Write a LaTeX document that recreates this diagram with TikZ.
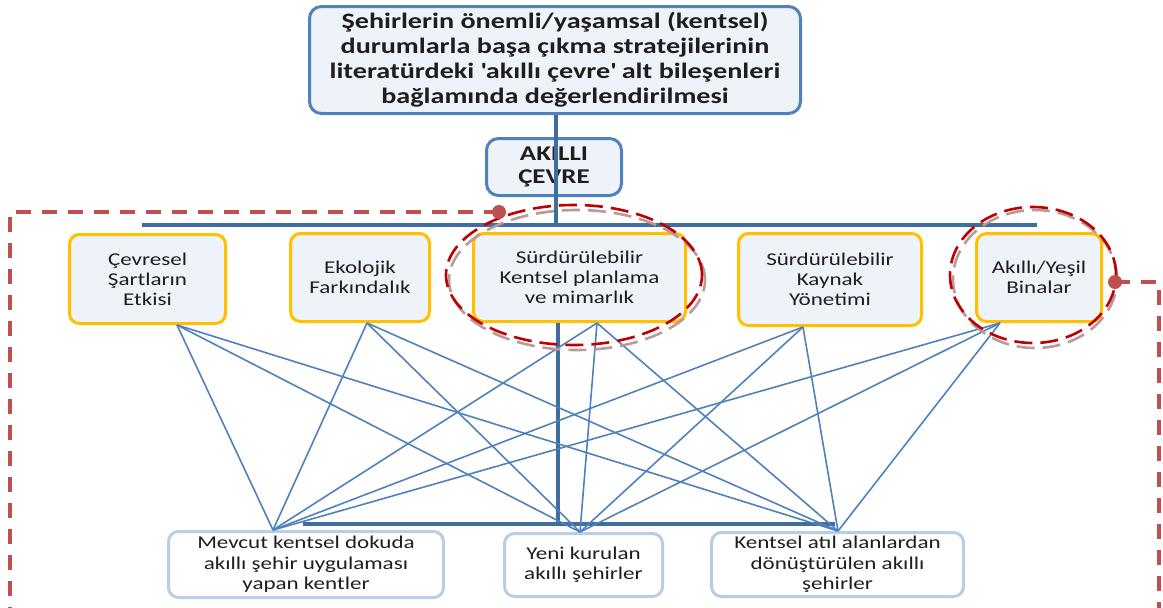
\documentclass[tikz,border=0pt]{standalone}
\usepackage{fontspec}
\setmainfont{Carlito}[FakeStretch=1.28]
\usetikzlibrary{calc}
\definecolor{topblue}{HTML}{4F81BD}
\definecolor{boxfill}{HTML}{EEF2F9}
\definecolor{gold}{HTML}{FFC000}
\definecolor{lightblue}{HTML}{B9CDE5}
\definecolor{thinblue}{HTML}{4F81BD}
\definecolor{darkblue}{HTML}{3F6D9F}
\definecolor{ellred}{HTML}{C00000}
\definecolor{ellgray}{HTML}{B89A9A}
\definecolor{dashred}{HTML}{C0504D}
\definecolor{txt}{HTML}{1E1E1E}
\tikzset{
  topbox/.style={draw=topblue, line width=3pt, fill=boxfill, rounded corners=12pt, align=center, text=txt, inner sep=0pt, font=\bfseries\fontsize{22}{25}\selectfont},
  midbox/.style={draw=gold, line width=3pt, fill=boxfill, rounded corners=10pt, align=center, text=txt, inner sep=0pt, font=\fontsize{18}{20}\selectfont},
  botbox/.style={draw=lightblue, line width=3pt, fill=white, rounded corners=10pt, align=center, text=txt, inner sep=0pt, font=\fontsize{18}{20.5}\selectfont},
  bus/.style={draw=darkblue, line width=3.5pt},
  link/.style={draw=thinblue, line width=1.6pt},
  ellr/.style={draw=ellred, line width=2.6pt, dash pattern=on 18pt off 8pt},
  ellg/.style={draw=ellgray, line width=2.6pt, dash pattern=on 18pt off 8pt},
  outer/.style={draw=dashred, line width=4pt, dash pattern=on 15pt off 11pt},
  dot/.style={circle, fill=dashred, inner sep=0pt, minimum size=14pt}
}
\begin{document}
\begin{tikzpicture}[x=1pt,y=-1pt]
\useasboundingbox (0,0) rectangle (1163,608);
% bus lines
\coordinate (busL) at (142,225);
\coordinate (busR) at (1037,225);
\coordinate (bbusL) at (303,524);
\coordinate (bbusR) at (835,524);
\draw[bus] (busL) -- (busR);
\draw[bus] (bbusL) -- (bbusR);
% top nodes
\node[topbox, minimum width=491pt, minimum height=107pt] (title) at (555,60)
  {Şehirlerin önemli/yaşamsal (kentsel)\\durumlarla başa çıkma stratejilerinin\\literatürdeki \textquotesingle akıllı çevre\textquotesingle{} alt bileşenleri\\bağlamında değerlendirilmesi};
\node[topbox, font=\bfseries\fontsize{21}{23}\selectfont, minimum width=135pt, minimum height=57pt] (ak) at (554,167) {AKILLI\\ÇEVRE};
\draw[bus] (title.south -| 556,0) -- (ak.south -| 556,0) -- (busL -| 556,0);
% middle nodes
\node[midbox, minimum width=156pt, minimum height=89pt] (c1) at (147.5,279) {Çevresel\\Şartların\\Etkisi};
\node[midbox, minimum width=139pt, minimum height=88pt] (c2) at (360,277.5) {Ekolojik\\Farkındalık};
\node[midbox, minimum width=212pt, minimum height=88pt] (c3) at (579.5,277.5) {Sürdürülebilir\\Kentsel planlama\\ve mimarlık};
\node[midbox, minimum width=183pt, minimum height=92pt] (c4) at (830,279.5) {Sürdürülebilir\\Kaynak\\Yönetimi};
\node[midbox, minimum width=125pt, minimum height=88pt] (c5) at (1039,277.5) {Akıllı/Yeşil\\Binalar};
\draw[bus] (c3.south -| 558,0) -- (bbusL -| 558,0);
% bottom nodes
\node[botbox, minimum width=275pt, minimum height=66pt] (b1) at (306,564.5) {Mevcut kentsel dokuda\\akıllı şehir uygulaması\\yapan kentler};
\node[botbox, minimum width=158pt, minimum height=63pt] (b2) at (583.5,565) {Yeni kurulan\\akıllı şehirler};
\node[botbox, minimum width=252pt, minimum height=64pt] (b3) at (837.5,564.5) {Kentsel atıl alanlardan\\dönüştürülen akıllı\\şehirler};
% link anchor points
\coordinate (t1) at (c1.south -| 177,0);
\coordinate (t2) at (c2.south -| 367,0);
\coordinate (t3) at (c3.south -| 597,0);
\coordinate (t4) at (c4.south -| 803,0);
\coordinate (t5) at (c5.south -| 1000,0);
\coordinate (u1) at (b1.north -| 273,0);
\coordinate (u2) at (b2.north -| 580,0);
\coordinate (u3) at (b3.north -| 838,0);
\foreach \t in {t1,t2,t3,t4,t5}{
  \foreach \u in {u1,u2,u3}{
    \draw[link] (\t) -- (\u);
  }
}
% ellipses
\draw[ellg] (577,280) ellipse [x radius=128pt, y radius=70pt];
\draw[ellr] (574,275) ellipse [x radius=128pt, y radius=70pt];
\draw[ellg] (1035,279) ellipse [x radius=82pt, y radius=69pt];
\draw[ellr] (1033,275) ellipse [x radius=83pt, y radius=68pt];
% outer dashed frame
\node[dot] (dl) at (499,212) {};
\node[dot] (dr) at (1115,282) {};
\coordinate (fl1) at (10,212);
\coordinate (fl2) at (10,620);
\coordinate (fr1) at (1159,282);
\coordinate (fr2) at (1159,620);
\draw[outer] (dl.center) -- (fl1) -- (fl2);
\draw[outer] (dr.center) -- (fr1) -- (fr2);
\end{tikzpicture}
\end{document}
